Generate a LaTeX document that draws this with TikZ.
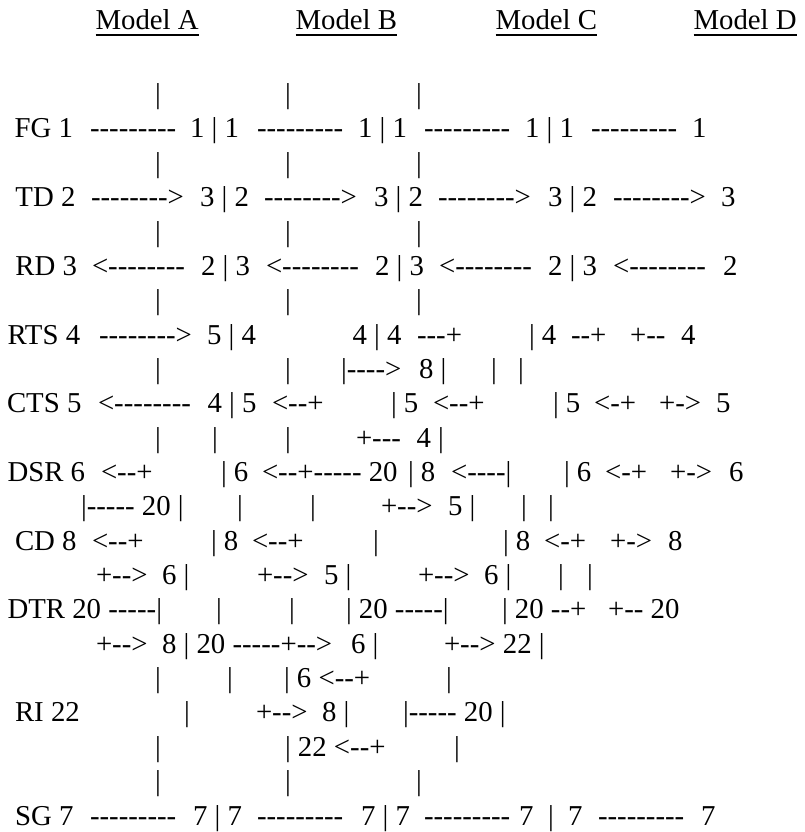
\documentclass[tikz,border=0pt]{standalone}
\usepackage{fontspec}
\newfontfamily\asc{Liberation Serif}
\tikzset{
  t/.style={anchor=base west, inner sep=0pt, outer sep=0pt, font=\asc\fontsize{28.8pt}{34pt}\selectfont},
  uline/.style={line width=1.3pt}
}
\newcommand\putseg[4]{\node[t] (#1) at (#2,{138+34.35*(#3)}) {#4};}
\begin{document}
\begin{tikzpicture}[x=1pt,y=-1pt]
\fill[white] (0,0) rectangle (804,832);
\useasboundingbox (0,0) rectangle (804,832);
% header
\node[t] (hA) at (95.5,30) {Model A};
\node[t] (hB) at (295.5,30) {Model B};
\node[t] (hC) at (495.5,30) {Model C};
\node[t] (hD) at (693.5,30) {Model D};
\foreach \h in {hA,hB,hC,hD}{
  \draw[uline] ([yshift=-5pt]\h.base west) -- ([yshift=-5pt]\h.base east);
}
% k=-1
\putseg{am1}{155}{-1}{|}\putseg{bm1}{285}{-1}{|}\putseg{cm1}{416}{-1}{|}
% FG
\putseg{fg0}{14.5}{0}{FG 1}
\putseg{fg1}{90}{0}{---------}
\putseg{fg2}{190}{0}{1 | 1}
\putseg{fg3}{257}{0}{---------}
\putseg{fg4}{358}{0}{1 | 1}
\putseg{fg5}{424}{0}{---------}
\putseg{fg6}{525}{0}{1 | 1}
\putseg{fg7}{591}{0}{---------}
\putseg{fg8}{692}{0}{1}
% k=1
\putseg{a1}{155}{1}{|}\putseg{b1}{285}{1}{|}\putseg{c1}{416}{1}{|}
% TD
\putseg{td0}{15.5}{2}{TD 2}
\putseg{td1}{91}{2}{-------->}
\putseg{td2}{200}{2}{3 | 2}
\putseg{td3}{264}{2}{-------->}
\putseg{td4}{374}{2}{3 | 2}
\putseg{td5}{438}{2}{-------->}
\putseg{td6}{548}{2}{3 | 2}
\putseg{td7}{613}{2}{-------->}
\putseg{td8}{721}{2}{3}
% k=3
\putseg{a3}{155}{3}{|}\putseg{b3}{285}{3}{|}\putseg{c3}{416}{3}{|}
% RD
\putseg{rd0}{15.5}{4}{RD 3}
\putseg{rd1}{92}{4}{<--------}
\putseg{rd2}{201}{4}{2 | 3}
\putseg{rd3}{266}{4}{<--------}
\putseg{rd4}{375}{4}{2 | 3}
\putseg{rd5}{439}{4}{<--------}
\putseg{rd6}{548}{4}{2 | 3}
\putseg{rd7}{613}{4}{<--------}
\putseg{rd8}{723}{4}{2}
% k=5
\putseg{a5}{155}{5}{|}\putseg{b5}{285}{5}{|}\putseg{c5}{416}{5}{|}
% RTS
\putseg{rt0}{7.5}{6}{RTS 4}
\putseg{rt1}{99}{6}{-------->}
\putseg{rt2}{207}{6}{5 | 4}
\putseg{rt3}{352.5}{6}{4 | 4}
\putseg{rt4}{417}{6}{---+}
\putseg{rt5}{529}{6}{| 4}
\putseg{rt6}{571}{6}{--+}
\putseg{rt7}{630}{6}{+--}
\putseg{rt8}{681}{6}{4}
% k=7
\putseg{a7}{155}{7}{|}\putseg{b7}{285}{7}{|}
\putseg{c7}{341}{7}{|---->}
\putseg{d7}{419}{7}{8 |}
\putseg{e7}{491}{7}{|}\putseg{f7}{518}{7}{|}
% CTS
\putseg{ct0}{7}{8}{CTS 5}
\putseg{ct1}{98}{8}{<--------}
\putseg{ct2}{207.5}{8}{4 | 5}
\putseg{ct3}{272}{8}{<--+}
\putseg{ct4}{391}{8}{| 5}
\putseg{ct5}{433}{8}{<--+}
\putseg{ct6}{553}{8}{| 5}
\putseg{ct7}{594}{8}{<-+}
\putseg{ct8}{659}{8}{+->}
\putseg{ct9}{716}{8}{5}
% k=9
\putseg{a9}{155}{9}{|}\putseg{b9}{212}{9}{|}\putseg{c9}{285}{9}{|}
\putseg{d9}{356}{9}{+---}
\putseg{e9}{416.5}{9}{4 |}
% DSR
\putseg{ds0}{7.5}{10}{DSR 6}
\putseg{ds1}{101}{10}{<--+}
\putseg{ds2}{221}{10}{| 6}
\putseg{ds3}{262}{10}{<--+----- 20}
\putseg{ds4}{408}{10}{| 8}
\putseg{ds5}{451}{10}{<----|}
\putseg{ds6}{564}{10}{| 6}
\putseg{ds7}{605}{10}{<-+}
\putseg{ds8}{670}{10}{+->}
\putseg{ds9}{729}{10}{6}
% k=11
\putseg{a11}{81}{11}{|----- 20 |}
\putseg{b11}{237}{11}{|}\putseg{c11}{310}{11}{|}
\putseg{d11}{381}{11}{+-->}
\putseg{e11}{448}{11}{5 |}
\putseg{f11}{521}{11}{|}\putseg{g11}{548}{11}{|}
% CD
\putseg{cd0}{15}{12}{CD 8}
\putseg{cd1}{92}{12}{<--+}
\putseg{cd2}{211}{12}{| 8}
\putseg{cd3}{252}{12}{<--+}
\putseg{cd4}{373}{12}{|}
\putseg{cd5}{503}{12}{| 8}
\putseg{cd6}{544}{12}{<-+}
\putseg{cd7}{610}{12}{+->}
\putseg{cd8}{668}{12}{8}
% k=13
\putseg{a13}{96}{13}{+-->}\putseg{b13}{162}{13}{6 |}
\putseg{c13}{257}{13}{+-->}\putseg{d13}{324}{13}{5 |}
\putseg{e13}{418}{13}{+-->}\putseg{f13}{484}{13}{6 |}
\putseg{g13}{558}{13}{|}\putseg{h13}{587}{13}{|}
% DTR
\putseg{dt0}{7.5}{14}{DTR 20 -----|}
\putseg{dt1}{216}{14}{|}
\putseg{dt2}{289}{14}{|}
\putseg{dt3}{346}{14}{| 20 -----|}
\putseg{dt4}{502}{14}{| 20 --+}
\putseg{dt5}{608}{14}{+-- 20}
% k=15
\putseg{a15}{96}{15}{+-->}
\putseg{b15}{162}{15}{8 | 20 -----+-->}
\putseg{c15}{351}{15}{6 |}
\putseg{d15}{444}{15}{+--> 22 |}
% k=16
\putseg{a16}{155}{16}{|}\putseg{b16}{227}{16}{|}
\putseg{c16}{284}{16}{| 6 <--+}
\putseg{d16}{446}{16}{|}
% RI
\putseg{ri0}{15}{17}{RI 22}
\putseg{ri1}{184}{17}{|}
\putseg{ri2}{256}{17}{+-->}
\putseg{ri3}{322}{17}{8 |}
\putseg{ri4}{403}{17}{|----- 20 |}
% k=18
\putseg{a18}{155}{18}{|}
\putseg{b18}{285}{18}{| 22 <--+}
\putseg{c18}{454}{18}{|}
% k=19
\putseg{a19}{155}{19}{|}\putseg{b19}{285}{19}{|}\putseg{c19}{416}{19}{|}
% SG
\putseg{sg0}{15}{20}{SG 7}
\putseg{sg1}{90}{20}{---------}
\putseg{sg2}{193}{20}{7 | 7}
\putseg{sg3}{257}{20}{---------}
\putseg{sg4}{361}{20}{7 | 7}
\putseg{sg5}{424}{20}{---------}
\putseg{sg6}{519}{20}{7}
\putseg{sg7}{548}{20}{|}
\putseg{sg8}{568}{20}{7}
\putseg{sg9}{598}{20}{---------}
\putseg{sg10}{701}{20}{7}
\end{tikzpicture}
\end{document}
